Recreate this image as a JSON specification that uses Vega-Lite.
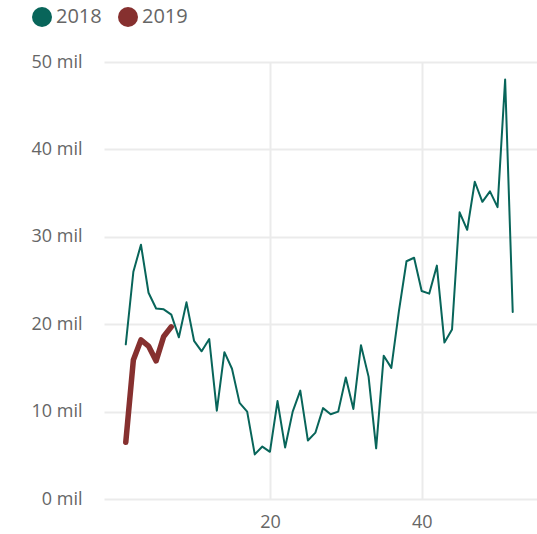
{
  "$schema": "https://vega.github.io/schema/vega-lite/v6.json",
  "width": 433,
  "height": 437,
  "autosize": {"type": "none"},
  "padding": {"left": 104, "top": 62, "right": 0, "bottom": 35},
  "background": "white",
  "config": {"view": {"stroke": null}, "font": "Open Sans"},
  "data": {
    "values": [
      {"week": 1, "year": "2018", "value": 17700},
      {"week": 2, "year": "2018", "value": 26000},
      {"week": 3, "year": "2018", "value": 29100},
      {"week": 4, "year": "2018", "value": 23600},
      {"week": 5, "year": "2018", "value": 21800},
      {"week": 6, "year": "2018", "value": 21700},
      {"week": 7, "year": "2018", "value": 21100},
      {"week": 8, "year": "2018", "value": 18500},
      {"week": 9, "year": "2018", "value": 22500},
      {"week": 10, "year": "2018", "value": 18100},
      {"week": 11, "year": "2018", "value": 16900},
      {"week": 12, "year": "2018", "value": 18300},
      {"week": 13, "year": "2018", "value": 10100},
      {"week": 14, "year": "2018", "value": 16800},
      {"week": 15, "year": "2018", "value": 14900},
      {"week": 16, "year": "2018", "value": 11000},
      {"week": 17, "year": "2018", "value": 10000},
      {"week": 18, "year": "2018", "value": 5100},
      {"week": 19, "year": "2018", "value": 6000},
      {"week": 20, "year": "2018", "value": 5400},
      {"week": 21, "year": "2018", "value": 11200},
      {"week": 22, "year": "2018", "value": 5900},
      {"week": 23, "year": "2018", "value": 10000},
      {"week": 24, "year": "2018", "value": 12400},
      {"week": 25, "year": "2018", "value": 6700},
      {"week": 26, "year": "2018", "value": 7600},
      {"week": 27, "year": "2018", "value": 10400},
      {"week": 28, "year": "2018", "value": 9700},
      {"week": 29, "year": "2018", "value": 10000},
      {"week": 30, "year": "2018", "value": 13900},
      {"week": 31, "year": "2018", "value": 10300},
      {"week": 32, "year": "2018", "value": 17600},
      {"week": 33, "year": "2018", "value": 14000},
      {"week": 34, "year": "2018", "value": 5800},
      {"week": 35, "year": "2018", "value": 16400},
      {"week": 36, "year": "2018", "value": 15000},
      {"week": 37, "year": "2018", "value": 21500},
      {"week": 38, "year": "2018", "value": 27200},
      {"week": 39, "year": "2018", "value": 27600},
      {"week": 40, "year": "2018", "value": 23800},
      {"week": 41, "year": "2018", "value": 23500},
      {"week": 42, "year": "2018", "value": 26700},
      {"week": 43, "year": "2018", "value": 17900},
      {"week": 44, "year": "2018", "value": 19400},
      {"week": 45, "year": "2018", "value": 32800},
      {"week": 46, "year": "2018", "value": 30800},
      {"week": 47, "year": "2018", "value": 36300},
      {"week": 48, "year": "2018", "value": 34000},
      {"week": 49, "year": "2018", "value": 35200},
      {"week": 50, "year": "2018", "value": 33400},
      {"week": 51, "year": "2018", "value": 48000},
      {"week": 52, "year": "2018", "value": 21400},
      {"week": 1, "year": "2019", "value": 6500},
      {"week": 2, "year": "2019", "value": 15900},
      {"week": 3, "year": "2019", "value": 18200},
      {"week": 4, "year": "2019", "value": 17500},
      {"week": 5, "year": "2019", "value": 15800},
      {"week": 6, "year": "2019", "value": 18600},
      {"week": 7, "year": "2019", "value": 19700}
    ]
  },
  "encoding": {
    "x": {
      "field": "week",
      "type": "quantitative",
      "scale": {"domain": [-1.87, 55.2], "nice": false, "zero": false},
      "axis": {
        "values": [20, 40],
        "title": null,
        "domain": false,
        "ticks": false,
        "grid": true,
        "gridColor": "#ebebeb",
        "gridWidth": 2,
        "labelFontSize": 18,
        "labelColor": "#666666",
        "labelPadding": 14,
        "labelFlush": false
      }
    },
    "y": {
      "field": "value",
      "type": "quantitative",
      "scale": {"domain": [0, 50000], "nice": false},
      "axis": {
        "values": [0, 10000, 20000, 30000, 40000, 50000],
        "labelExpr": "datum.value / 1000 + ' mil'",
        "title": null,
        "domain": false,
        "ticks": false,
        "grid": true,
        "gridColor": "#ebebeb",
        "gridWidth": 2,
        "labelFontSize": 18,
        "labelColor": "#666666",
        "labelPadding": 22
      }
    },
    "color": {
      "field": "year",
      "type": "nominal",
      "scale": {"domain": ["2018", "2019"], "range": ["#08655a", "#86302f"]},
      "legend": {
        "title": null,
        "orient": "none",
        "legendX": -72,
        "legendY": -55,
        "direction": "horizontal",
        "symbolType": "circle",
        "symbolSize": 400,
        "symbolStrokeWidth": 0,
        "labelFontSize": 20,
        "labelColor": "#666666",
        "labelOffset": 4,
        "columnPadding": 16,
        "encode": {
          "symbols": {"update": {"fill": {"scale": "color", "field": "value"}, "fillOpacity": {"value": 1}, "strokeWidth": {"value": 0}}}
        }
      }
    }
  },
  "layer": [
    {
      "transform": [{"filter": "datum.year == '2018'"}],
      "mark": {"type": "line", "strokeWidth": 2, "strokeCap": "round", "strokeJoin": "round"}
    },
    {
      "transform": [{"filter": "datum.year == '2019'"}],
      "mark": {"type": "line", "strokeWidth": 5.5, "strokeCap": "round", "strokeJoin": "round"}
    }
  ]
}
